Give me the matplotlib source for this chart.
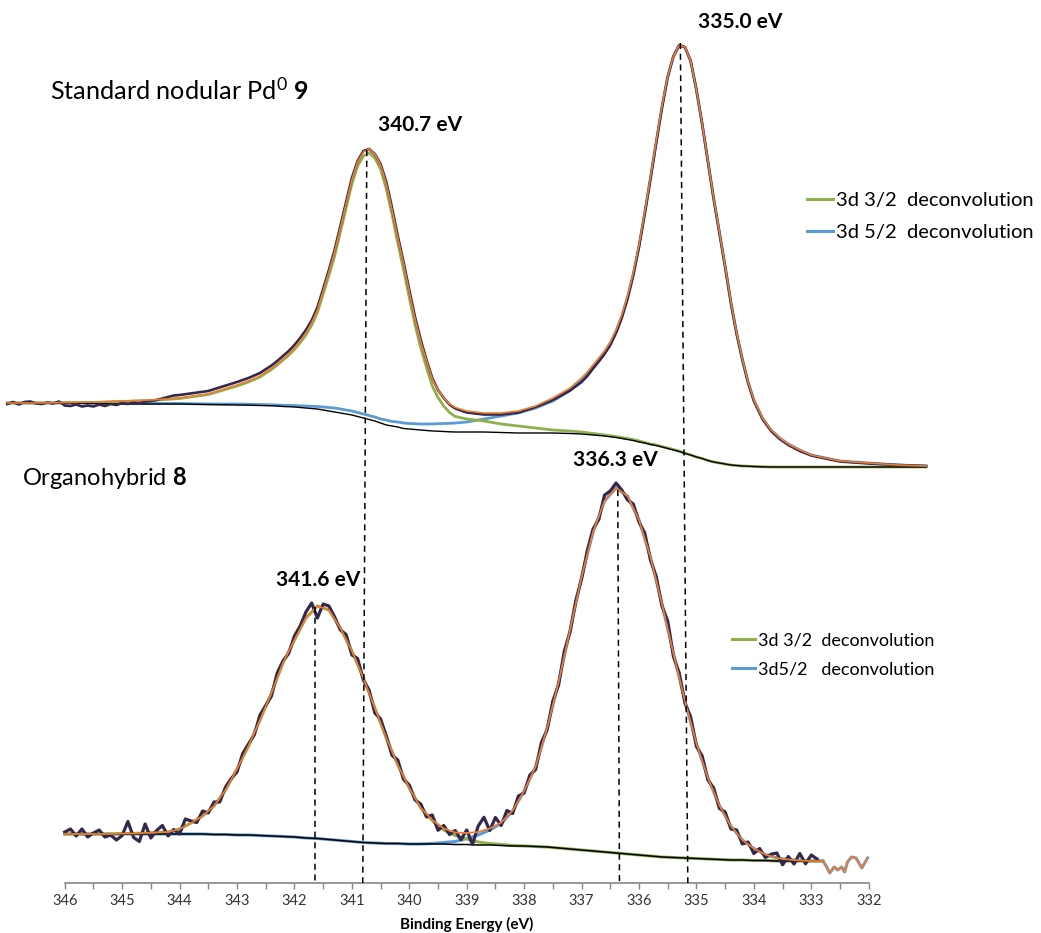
import matplotlib.pyplot as plt
from matplotlib.lines import Line2D

plt.rcParams['font.family'] = ['Lato', 'DejaVu Sans']
plt.rcParams['mathtext.fontset'] = 'custom'
plt.rcParams['mathtext.rm'] = 'Lato'
plt.rcParams['mathtext.bf'] = 'Lato:bold'
plt.rcParams['mathtext.it'] = 'Lato:italic'

# ---- upper trace: standard nodular Pd0 (9) ----
top_ev = [347.0, 346.5, 346.0, 345.5, 345.0, 344.5, 344.0, 343.5, 343.0, 342.8,
          342.6, 342.4, 342.3, 342.2, 342.1, 342.0, 341.9, 341.8, 341.7, 341.6,
          341.5, 341.4, 341.3, 341.2, 341.1, 341.0, 340.9, 340.8, 340.7, 340.6,
          340.5, 340.4, 340.3, 340.2, 340.1, 340.0, 339.9, 339.8, 339.7, 339.6,
          339.5, 339.4, 339.3, 339.2, 339.0, 338.7, 338.4, 338.1, 337.8, 337.5,
          337.2, 337.0, 336.9, 336.8, 336.7, 336.6, 336.5, 336.4, 336.3, 336.2,
          336.1, 336.0, 335.9, 335.8, 335.7, 335.6, 335.5, 335.4, 335.3, 335.2,
          335.1, 335.0, 334.9, 334.8, 334.7, 334.6, 334.5, 334.4, 334.3, 334.2,
          334.1, 334.0, 333.85, 333.7, 333.55, 333.4, 333.2, 333.0, 332.5, 332.0,
          331.5, 331.0]
top_env = [480, 480, 480.5, 481, 482, 483, 485, 489, 498, 502,
           507, 514.5, 519, 524, 529, 535, 542, 550, 560, 573,
           592, 611, 631, 655, 679, 703, 721, 731, 734, 729,
           718, 699, 673, 645, 619, 591, 564, 541, 522, 504,
           493, 485, 479, 475.5, 472, 470, 470, 472, 477, 485,
           495, 505, 511, 518, 525, 532, 541, 553, 568, 587,
           610, 638, 671, 706, 742, 777, 807, 827, 838, 836,
           822, 793, 759, 722, 685, 651, 617, 581, 550, 524,
           501, 483, 465, 453, 445, 439, 433, 428, 422, 420,
           418, 417]
top_d32 = [480, 480, 480.5, 480.5, 481.5, 482.5, 484.5, 488.5, 497, 501,
           506, 513.5, 518, 522.8, 527.7, 533.5, 540.3, 548, 557.8, 570.5,
           589, 607.5, 627, 651, 675, 699, 717, 727, 730, 725,
           714, 694, 668.5, 640, 613.5, 585.5, 558.2, 535, 515.5, 497,
           485.5, 477, 470.5, 466.5, 464, 462, 459, 457, 455, 453,
           452, 451, 450.2, 449.5, 448.8, 448, 447.2, 446.5, 445.5, 444.5,
           443.5, 442, 440.5, 439, 438, 436.5, 435, 433.5, 432, 430,
           428, 426, 424.5, 422.5, 421, 420, 419, 418, 417.5, 417,
           416.8, 416.5, 416.2, 416, 416, 416, 416, 416, 416, 416,
           416, 416]
top_d52 = [480, 480, 480, 480, 479.5, 479.5, 479.5, 479, 479, 478.8,
           478.5, 478.2, 478, 477.7, 477.6, 477.5, 477.2, 477, 476.7, 476.5,
           476, 475.5, 475, 474, 473, 472, 470.5, 469, 467.5, 466,
           464, 463, 461.5, 461, 460, 459.5, 459.3, 459, 459, 459,
           459.3, 459.5, 459.7, 460, 461, 464, 467, 470, 475, 482,
           492.5, 503, 509.3, 516.5, 523.7, 531, 540, 552, 567, 586,
           609, 637, 670.5, 705.5, 741.5, 776.5, 806.5, 826.5, 837.5, 835.5,
           822, 793, 759, 722, 685, 651, 617, 581, 550, 524,
           501, 483, 465, 453, 445, 439, 433, 428, 422, 420,
           418, 417]
top_bg = [480, 480, 480, 479.5, 479, 479, 479, 478.5, 478, 477.8,
          477.5, 477.2, 477, 476.5, 476.3, 476, 475.5, 475, 474.5, 474,
          473, 472, 471, 470, 469, 468, 466.5, 465, 463.5, 462,
          460, 458, 457, 456, 454.5, 454, 453.5, 453, 452.5, 452,
          451.8, 451.5, 451.2, 451, 451, 451, 450.5, 450, 450, 450,
          449.5, 449, 448.5, 448, 447.5, 447, 446.2, 445.5, 444.5, 443.5,
          442.5, 441, 440, 438.5, 437.5, 436, 434.5, 433, 431.5, 429.5,
          428, 426, 424.5, 422.5, 421, 420, 419, 418, 417.5, 417,
          416.8, 416.5, 416.2, 416, 416, 416, 416, 416, 416, 416,
          416, 416]
top_meas_ev = [347.0, 346.9, 346.8, 346.7, 346.6, 346.5, 346.4, 346.3, 346.2, 346.1,
               346.0, 345.9, 345.8, 345.7, 345.6, 345.5, 345.4, 345.3, 345.2, 345.1,
               345.0, 344.9, 344.8, 344.7, 344.6, 344.5, 344.4, 344.3, 344.2, 344.1,
               344.0] + top_ev[7:]
top_meas = [479, 481, 478.5, 481, 481.5, 479.5, 479, 480.5, 479.5, 481.5,
            477.5, 477, 478.5, 476.5, 477.5, 476.5, 478.5, 477, 479, 478,
            480, 479, 480.5, 479.5, 481.5, 482, 483, 484.5, 486, 487.5,
            488,
            492, 501, 505, 510, 517.5, 522, 527, 532, 538, 545,
            553, 562.5, 575.5, 594, 613, 633, 657, 681, 705, 722,
            732, 734, 729, 719, 701, 675, 647, 621, 593, 566,
            543, 523, 505, 493, 485, 478.5, 474.5, 470.5, 468.5, 468.5,
            470.5, 476, 483, 492.5, 501, 507, 514.5, 521.5, 529, 538,
            550, 565, 584, 607.5, 636, 669, 704, 740, 775, 806,
            827, 838, 836, 822, 793, 759, 721.5, 684, 650, 616,
            580, 549, 523, 500, 482, 464, 452, 444, 438, 432,
            427.5, 421.5, 419.5, 418, 417]

# ---- lower trace: organohybrid (8) ----
bot_ev = [346.0, 345.8, 345.6, 345.4, 345.2, 345.0, 344.8, 344.6, 344.4, 344.2,
          344.0, 343.8, 343.6, 343.4, 343.2, 343.0, 342.8, 342.6, 342.4, 342.2,
          342.0, 341.8, 341.6, 341.4, 341.2, 341.0, 340.8, 340.6, 340.4, 340.2,
          340.0, 339.8, 339.6, 339.4, 339.2, 339.0, 338.8, 338.6, 338.4, 338.2,
          338.0, 337.8, 337.6, 337.4, 337.2, 337.0, 336.8, 336.6, 336.4, 336.2,
          336.0, 335.8, 335.6, 335.4, 335.2, 335.0, 334.8, 334.6, 334.4, 334.2,
          334.0, 333.8, 333.6, 333.4, 333.2, 333.0, 332.8]
bot_env = [49, 49, 49, 49, 49, 49.5, 49.5, 50, 50.5, 51,
           54, 60, 67, 77, 93, 114, 137, 163, 190, 220,
           243, 265, 277, 273, 255, 232, 205, 175, 145, 118,
           95, 75, 63, 54.5, 50.5, 50, 51, 54.5, 60.5, 72.5,
           92, 116.5, 155, 201, 253, 306, 351, 382, 395, 387,
           363, 326, 279, 229.5, 182, 139.5, 105, 77.5, 57, 43,
           34.5, 28.5, 25, 23.5, 22.5, 22, 22]
bot_d32 = [49, 49, 49, 49, 49, 49.5, 49.5, 50, 50.5, 51,
           54, 60, 67, 77, 93, 114, 137, 163, 190, 220,
           243, 265, 277, 273, 255, 232, 205, 175, 145, 118,
           95, 75, 62.5, 53, 47.5, 44, 41, 39.5, 38.5, 37.5,
           37, 36.5, 36, 35, 34, 33, 32, 31, 30, 29,
           28, 27, 26, 25.5, 25, 24.5, 24, 23.5, 23, 23,
           22.5, 22.5, 22, 22, 22, 22, 22]
bot_d52 = [49, 49, 49, 49, 49, 49, 49, 49, 49, 49,
           49, 49, 49, 48.5, 48.5, 48, 48, 47.5, 47, 46.5,
           46, 45, 44.5, 43.5, 42.5, 41.5, 40.5, 40, 39.5, 39.5,
           39, 39, 39.5, 40.5, 41.5, 44.5, 48, 53, 59.5, 72,
           92, 116.5, 155, 201, 253, 306, 351, 382, 395, 387,
           363, 326, 279, 229.5, 182, 139.5, 105, 77.5, 57, 43,
           34.5, 28.5, 25, 23.5, 22.5, 22, 22]
bot_bg = [49, 49, 49, 49, 49, 49, 49, 49, 49, 49,
          49, 49, 49, 48.5, 48.5, 48, 48, 47.5, 47, 46.5,
          46, 45, 44.5, 43.5, 42.5, 41.5, 40.5, 40, 39.5, 39.5,
          39, 39, 39, 39, 38.5, 38.5, 38, 38, 37.5, 37,
          37, 36.5, 36, 35, 34, 33, 32, 31, 30, 29,
          28, 27, 26, 25.5, 25, 24.5, 24, 23.5, 23, 23,
          22.5, 22.5, 22, 22, 22, 22, 22]
# noisy fit tail past the end of the measured data
bot_tail_ev = [332.8, 332.74, 332.68, 332.6, 332.54, 332.47, 332.42, 332.37, 332.3,
               332.22, 332.12, 332.06, 332.02]
bot_tail = [22, 17, 10, 16, 13, 16, 11, 21, 26, 25, 15, 21, 25]

bot_meas_ev = [346.0, 345.9, 345.8, 345.7, 345.6, 345.5, 345.4, 345.3, 345.2, 345.1,
               345.0, 344.9, 344.8, 344.7, 344.6, 344.5, 344.4, 344.3, 344.2, 344.1,
               344.0, 343.9, 343.8, 343.7, 343.6, 343.5, 343.4, 343.3, 343.2, 343.1,
               343.0, 342.9, 342.8, 342.7, 342.6, 342.5, 342.4, 342.3, 342.2, 342.1,
               342.0, 341.9, 341.8, 341.7, 341.6, 341.5, 341.4, 341.3, 341.2, 341.1,
               341.0, 340.9, 340.8, 340.7, 340.6, 340.5, 340.4, 340.3, 340.2, 340.1,
               340.0, 339.9, 339.8, 339.7, 339.6, 339.5, 339.4, 339.3, 339.2, 339.1,
               339.0, 338.9, 338.8, 338.7, 338.6, 338.5, 338.4, 338.3, 338.2, 338.1,
               338.0, 337.9, 337.8, 337.7, 337.6, 337.5, 337.4, 337.3, 337.2, 337.1,
               337.0, 336.9, 336.8, 336.7, 336.6, 336.5, 336.4, 336.3, 336.2, 336.1,
               336.0, 335.9, 335.8, 335.7, 335.6, 335.5, 335.4, 335.3, 335.2, 335.1,
               335.0, 334.9, 334.8, 334.7, 334.6, 334.5, 334.4, 334.3, 334.2, 334.1,
               334.0, 333.9, 333.8, 333.7, 333.6, 333.5, 333.4, 333.3, 333.2, 333.1,
               333.0, 332.9]
bot_meas = [51, 54, 47, 54, 46, 50, 53, 46, 48, 43,
            47.5, 61.5, 45.5, 41.5, 59, 45, 52.5, 57.5, 47, 53.5,
            49, 64, 62, 60.5, 72, 70, 81, 81, 96, 104.5,
            111, 129.5, 139, 148, 168, 177.5, 187, 210, 222, 229.5,
            247, 257, 271, 280, 265, 279, 277, 266, 253, 248.5,
            228, 224.5, 203, 193, 170, 164, 147, 127.5, 123, 103.5,
            98, 83, 79, 66, 68, 52.7, 57.5, 48.5, 52.5, 43.2,
            53, 38.5, 57, 65.7, 52.5, 65.5, 57.5, 72.5, 69.5, 87,
            90, 108, 113.5, 140.5, 153, 182, 198, 232, 251, 282.5,
            304, 332.5, 354, 363.5, 388, 392, 400, 393, 383, 379,
            361, 350, 323, 306.5, 277, 262, 226.5, 210, 180, 166,
            136.5, 127, 103, 95, 74.5, 71, 54, 53, 39, 41,
            29.5, 34.5, 25.5, 28.8, 30, 18.2, 26.5, 19, 29.5, 19.2,
            28, 24]

# peak position markers and their labels
peak_labels = ['340.7 eV', '335.0 eV', '341.6 eV', '336.3 eV']
mark_top_ev = [340.74, 335.28, 341.64, 336.37]
mark_top_y = [733, 840, 276, 393]
mark_base_ev = [340.81, 335.15, 341.64, 336.34]
label_ev = [339.81, 334.24, 341.59, 336.41]
label_y = [758, 861, 303, 423]

c_meas = '#33294f'
c_env = '#ED7D31'
c_32 = '#8fb04c'
c_52 = '#5b9bd5'

fig = plt.figure(figsize=(10.41, 9.33), dpi=100)
ax = fig.add_axes([0, 50 / 933, 1, 883 / 933])

# upper trace
ax.plot(top_ev, top_d52, color=c_52, lw=2.0, zorder=2)
ax.plot(top_ev, top_d32, color=c_32, lw=2.0, zorder=2)
ax.plot(top_ev, top_bg, color='black', lw=1.0, zorder=3)
ax.plot(top_meas_ev, top_meas, color=c_meas, lw=1.9, zorder=4)
ax.plot(top_ev, top_env, color=c_env, lw=1.2, zorder=5)

# lower trace
ax.plot(bot_ev, bot_d52, color=c_52, lw=2.2, zorder=2)
ax.plot(bot_ev, bot_d32, color=c_32, lw=2.2, zorder=2)
ax.plot(bot_ev, bot_bg, color='black', lw=1.1, zorder=3)
ax.plot(bot_meas_ev, bot_meas, color=c_meas, lw=2.3, zorder=4)
ax.plot(bot_ev, bot_env, color=c_env, lw=1.3, zorder=5)
ax.plot(bot_tail_ev, bot_tail, color=c_52, lw=2.2, zorder=2)
ax.plot(bot_tail_ev, bot_tail, color=c_env, lw=1.3, zorder=5)

for i in range(len(peak_labels)):
    ax.plot([mark_top_ev[i], mark_base_ev[i]], [mark_top_y[i], 0], color='black',
            lw=1.1, linestyle=(0, (4, 3)), zorder=6)
    ax.text(label_ev[i], label_y[i], peak_labels[i], ha='center', va='center',
            fontsize=15, fontweight='bold')

ax.text(346.256, 793, r'Standard nodular Pd$^{0}$ $\mathbf{9}$', ha='left', va='center',
        fontsize=18.2)
ax.text(346.74, 405, r'Organohybrid $\mathbf{8}$', ha='left', va='center', fontsize=17)

# legends
h = [Line2D([], [], color=c_32, lw=2.2), Line2D([], [], color=c_52, lw=2.2)]
leg1 = ax.legend(h, ['3d 3/2  deconvolution', '3d 5/2  deconvolution'], loc='upper left',
                 bbox_to_anchor=(807 / 1041, 1 - 192 / 933), bbox_transform=fig.transFigure,
                 frameon=False, fontsize=14.5, handlelength=1.3, handletextpad=0.15,
                 labelspacing=0.72, borderpad=0, borderaxespad=0)
ax.add_artist(leg1)
ax.legend(h, ['3d 3/2  deconvolution', '3d5/2   deconvolution'], loc='upper left',
          bbox_to_anchor=(732 / 1041, 1 - 632 / 933), bbox_transform=fig.transFigure,
          frameon=False, fontsize=13, handlelength=1.27, handletextpad=0.15,
          labelspacing=0.73, borderpad=0, borderaxespad=0)

# axis
ax.set_xlim(347.127, 329.0)
ax.set_ylim(0, 883)
for s in ['top', 'right', 'left']:
    ax.spines[s].set_visible(False)
ax.spines['bottom'].set_bounds(332, 346)
ax.spines['bottom'].set_color('#868686')
ax.spines['bottom'].set_linewidth(1.2)
ax.set_yticks([])
ax.set_xticks(range(332, 347))
ax.set_xticks([332.5 + i for i in range(14)], minor=True)
ax.tick_params(axis='x', which='both', direction='out', length=4, width=1, color='#868686',
               labelsize=10.5, labelcolor='#333333', pad=4)
ax.set_xlabel('Binding Energy (eV)', fontsize=11, fontweight='bold')
ax.xaxis.set_label_coords(0.4484, -0.0385)
ax.patch.set_alpha(0)

fig.savefig('out.png', dpi=100)
